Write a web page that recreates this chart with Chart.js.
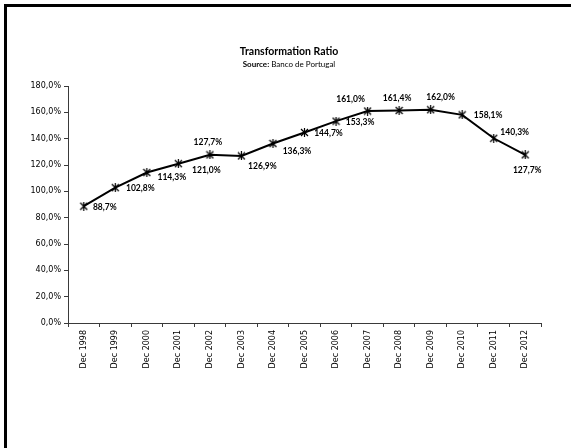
<!DOCTYPE html>
<html>
<head>
<meta charset="utf-8">
<script src="https://cdn.jsdelivr.net/npm/chart.js@4/dist/chart.umd.min.js"></script>
<style>
  html, body { margin: 0; padding: 0; background: #fff; }
  #frame { position: absolute; left: 0; top: 0; width: 571px; height: 448px; overflow: hidden; }
  #frame .edgeL { position: absolute; left: 4px; top: 4px; width: 3px; height: 444px; background: #000; }
  #frame .edgeT { position: absolute; left: 4px; top: 4px; width: 567px; height: 3px; background: #000; }
  #chart { position: absolute; left: 0; top: 0; }
  #title { position: absolute; left: 7px; width: 564px; top: 45px; text-align: center;
           font: bold 10.5px Lato, sans-serif; color: #000; }
  #subtitle { position: absolute; left: 7px; width: 564px; top: 59px; text-align: center;
              font: 8px Lato, sans-serif; color: #000; }
  #subtitle b { font-weight: bold; }
</style>
</head>
<body>
<div id="frame">
  <canvas id="chart" width="571" height="448"></canvas>
  <div class="edgeL"></div>
  <div class="edgeT"></div>
  <div id="title">Transformation Ratio</div>
  <div id="subtitle"><b>Source:</b> Banco de Portugal</div>
</div>
<script>
// Year-end observations
const categories = ['Dec 1998', 'Dec 1999', 'Dec 2000', 'Dec 2001', 'Dec 2002', 'Dec 2003', 'Dec 2004',
                    'Dec 2005', 'Dec 2006', 'Dec 2007', 'Dec 2008', 'Dec 2009', 'Dec 2010', 'Dec 2011', 'Dec 2012'];
const ratioValues = [88.7, 102.8, 114.3, 121.0, 127.7, 126.9, 136.3, 144.7, 153.3, 161.0, 161.4, 162.0, 158.1, 140.3, 127.7];

// Value axis range (percent)
const yMin = 0;
const yMax = 180;
const yStep = 20;

// Where each value label sits relative to its point (dx, dy in px, label centre)
const labelOffsets = [
  [21, 1], [25, 1], [25, 5], [28, 7], [-2, -13], [21, 10], [24, 8], [24, 1],
  [24, 1], [-17, -12], [-2, -12], [10, -12], [26, 0], [21, -6], [2, 15]
];

const fmtPct = v => v.toFixed(1).replace('.', ',') + '%';

// Asterisk-style marker: a cross with a vertical stroke
function starMarker(size) {
  const c = document.createElement('canvas');
  c.width = size; c.height = size;
  const g = c.getContext('2d');
  g.strokeStyle = '#000';
  g.lineWidth = 1.2;
  g.beginPath();
  g.moveTo(1, 1); g.lineTo(size - 1, size - 1);
  g.moveTo(size - 1, 1); g.lineTo(1, size - 1);
  g.moveTo(size / 2, 0); g.lineTo(size / 2, size);
  g.stroke();
  return c;
}

const valueLabels = {
  id: 'valueLabels',
  afterDatasetsDraw(chart) {
    const ctx = chart.ctx;
    const meta = chart.getDatasetMeta(0);
    ctx.save();
    ctx.font = 'bold 8.5px Lato, sans-serif';
    ctx.fillStyle = '#000';
    ctx.textAlign = 'center';
    ctx.textBaseline = 'middle';
    meta.data.forEach((pt, i) => {
      const [dx, dy] = labelOffsets[i];
      ctx.fillText(fmtPct(ratioValues[i]), pt.x + dx, pt.y + dy);
    });
    ctx.restore();
  }
};

const axisColor = '#3a3a3a';

new Chart(document.getElementById('chart'), {
  type: 'line',
  data: {
    labels: categories,
    datasets: [{
      data: ratioValues,
      borderColor: '#000',
      borderWidth: 2,
      tension: 0,
      fill: false,
      pointStyle: starMarker(9),
      pointRadius: 4.5
    }]
  },
  options: {
    responsive: false,
    devicePixelRatio: 1,
    animation: false,
    layout: { padding: { left: 5, right: 30, top: 86, bottom: 0 } },
    plugins: {
      legend: { display: false },
      tooltip: { enabled: false },
      title: { display: false }
    },
    scales: {
      x: {
        type: 'category',
        offset: true,
        grid: { display: true, drawOnChartArea: false, drawTicks: true, tickLength: 4, offset: true, color: axisColor },
        border: { display: true, color: axisColor, width: 1 },
        ticks: {
          autoSkip: false, minRotation: 90, maxRotation: 90, padding: 3,
          color: '#000', font: { family: 'DejaVu Sans', size: 8 }
        },
        afterFit: s => { s.height = 125; }
      },
      y: {
        min: yMin, max: yMax,
        grid: { display: true, drawOnChartArea: false, drawTicks: true, tickLength: 4, color: axisColor },
        border: { display: true, color: axisColor, width: 1 },
        ticks: {
          stepSize: yStep, padding: 3, color: '#000',
          font: { family: 'DejaVu Sans', size: 8 },
          callback: v => fmtPct(v)
        },
        afterFit: s => { s.width = 63; }
      }
    }
  },
  plugins: [valueLabels]
});
</script>
</body>
</html>
